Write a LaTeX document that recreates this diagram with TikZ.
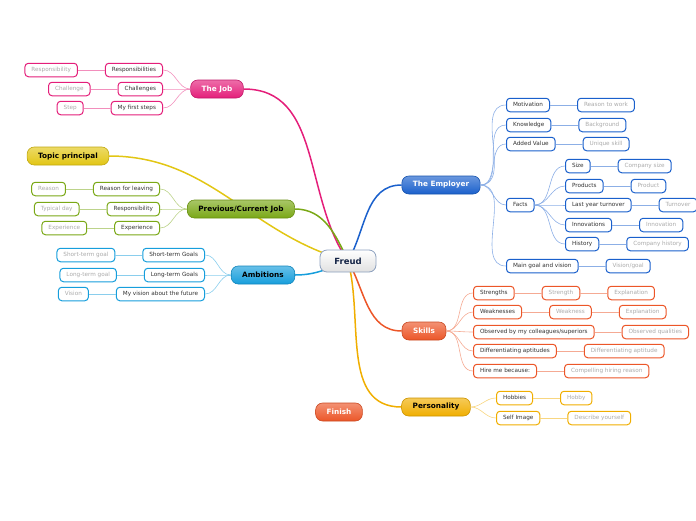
\documentclass[tikz,border=0pt]{standalone}
\usepackage{fontspec}
\setmainfont{DejaVu Sans}
\usepackage{tikz}
\usetikzlibrary{positioning, backgrounds}
\definecolor{MapPink}{RGB}{228, 30, 122}
\definecolor{MapGreen}{RGB}{122, 168, 22}
\definecolor{MapYellow}{RGB}{226, 198, 20}
\definecolor{MapSky}{RGB}{22, 158, 220}
\definecolor{MapBlue}{RGB}{26, 96, 204}
\definecolor{MapOrange}{RGB}{236, 86, 40}
\definecolor{MapGold}{RGB}{240, 174, 0}
\definecolor{MapNavy}{RGB}{20, 36, 70}
\definecolor{MapRim}{RGB}{140, 160, 190}

\tikzset{
  rootbox/.style={rounded corners=7pt, draw=MapRim, line width=0.8pt,
    top color=white, bottom color=black!12, minimum width=56pt,
    minimum height=22pt, text=MapNavy, font=\fontsize{8.5}{9}\selectfont\bfseries},
  topicbox/.style={rounded corners=7pt, draw=#1!85!black, line width=0.6pt,
    top color=#1!65!white, bottom color=#1, minimum height=18pt,
    inner xsep=11pt, text=white, font=\fontsize{7.3}{8}\selectfont\bfseries},
  darktext/.style={text=black},
  subbox/.style={rounded corners=3.5pt, draw=#1, line width=1pt, fill=white,
    minimum height=13.5pt, inner xsep=6.5pt, inner ysep=0pt, text=black!80,
    text height=4.3pt, text depth=1.2pt, font=\fontsize{5.7}{6.5}\selectfont},
  leafbox/.style={subbox=#1, text=black!33},
  branch/.style={draw=#1, line width=1.5pt},
  twig/.style={draw=#1!50, line width=0.6pt}
}

\begin{document}
\begin{tikzpicture}[x=1pt, y=-1pt]
  \useasboundingbox (0,0) rectangle (696,520);

  % centre and main topics
  \node[rootbox] (freud) at (348,261) {Freud};
  \node[topicbox=MapPink] (job) at (217,89) {The Job};
  \node[topicbox=MapYellow, darktext] (topic) at (68,156) {Topic principal};
  \node[topicbox=MapGreen, darktext] (prev) at (241,209) {Previous/Current Job};
  \node[topicbox=MapSky, darktext] (amb) at (263,275) {Ambitions};
  \node[topicbox=MapBlue] (emp) at (441,185) {The Employer};
  \node[topicbox=MapOrange] (skills) at (424,331) {Skills};
  \node[topicbox=MapGold, darktext] (pers) at (436,407) {Personality};
  \node[topicbox=MapOrange] (finish) at (339,412) {Finish};

  \begin{scope}[on background layer]
    \draw[branch=MapPink] (freud.center) to[out=125,in=0] (job.east);
    \draw[branch=MapYellow] (topic.east) to[out=0,in=165] (freud.center);
    \draw[branch=MapGreen] (prev.east) to[out=0,in=115] (freud.center);
    \draw[branch=MapSky] (amb.east) to[out=0,in=200] (freud.center);
    \draw[branch=MapBlue] (freud.center) to[out=60,in=180] (emp.west);
    \draw[branch=MapOrange] (freud.center) to[out=-60,in=180] (skills.west);
    \draw[branch=MapGold] (freud.center) to[out=-75,in=180] (pers.west);
  \end{scope}

  % The Job
  \foreach \n/\y/\sub/\leaf in {resp/70/Responsibilities/Responsibility,
      chal/89/Challenges/Challenge, step/108/My first steps/Step} {
    \node[subbox=MapPink, anchor=east] (job\n) at (163,\y) {\sub};
    \node[leafbox=MapPink, left=27pt of job\n] (job\n-l) {\leaf};
    \draw[twig=MapPink] (job.west) to[out=180,in=0] (job\n.east);
    \draw[twig=MapPink] (job\n.west) -- (job\n-l.east);
  }

  % Previous/Current Job
  \foreach \n/\y/\sub/\leaf in {leav/189/Reason for leaving/Reason,
      resp/209/Responsibility/Typical day, expe/228/Experience/Experience} {
    \node[subbox=MapGreen, anchor=east] (prev\n) at (160,\y) {\sub};
    \node[leafbox=MapGreen, left=27pt of prev\n] (prev\n-l) {\leaf};
    \draw[twig=MapGreen] (prev.west) to[out=180,in=0] (prev\n.east);
    \draw[twig=MapGreen] (prev\n.west) -- (prev\n-l.east);
  }

  % Ambitions
  \foreach \n/\y/\sub/\leaf in {short/255/Short-term Goals/Short-term goal,
      long/275/Long-term Goals/Long-term goal,
      vis/294/My vision about the future/Vision} {
    \node[subbox=MapSky, anchor=east] (amb\n) at (205,\y) {\sub};
    \node[leafbox=MapSky, left=27pt of amb\n] (amb\n-l) {\leaf};
    \draw[twig=MapSky] (amb.west) to[out=180,in=0] (amb\n.east);
    \draw[twig=MapSky] (amb\n.west) -- (amb\n-l.east);
  }

  % The Employer
  \foreach \n/\y/\sub/\leaf in {moti/105/Motivation/Reason to work,
      know/125/Knowledge/Background, added/144/Added Value/Unique skill,
      goal/266/Main goal and vision/{Vision/goal}} {
    \node[subbox=MapBlue, anchor=west] (emp\n) at (506,\y) {\sub};
    \node[leafbox=MapBlue, right=27pt of emp\n] (emp\n-l) {\leaf};
    \draw[twig=MapBlue] (emp.east) to[out=0,in=180] (emp\n.west);
    \draw[twig=MapBlue] (emp\n.east) -- (emp\n-l.west);
  }
  \node[subbox=MapBlue, anchor=west] (facts) at (506,205) {Facts};
  \draw[twig=MapBlue] (emp.east) to[out=0,in=180] (facts.west);
  \foreach \n/\y/\sub/\leaf in {size/166/Size/Company size,
      prod/186/Products/Product, turn/205/Last year turnover/Turnover,
      inno/225/Innovations/Innovation, hist/244/History/Company history} {
    \node[subbox=MapBlue, anchor=west] (facts\n) at (565,\y) {\sub};
    \node[leafbox=MapBlue, right=27pt of facts\n] (facts\n-l) {\leaf};
    \draw[twig=MapBlue] (facts.east) to[out=0,in=180] (facts\n.west);
    \draw[twig=MapBlue] (facts\n.east) -- (facts\n-l.west);
  }

  % Skills
  \foreach \n/\y/\sub/\leaf in {str/293/Strengths/Strength,
      weak/312/Weaknesses/Weakness,
      obs/332/{Observed by my colleagues/superiors}/Observed qualities,
      diff/351/Differentiating aptitudes/Differentiating aptitude,
      hire/371/Hire me because:/Compelling hiring reason} {
    \node[subbox=MapOrange, anchor=west] (skill\n) at (473,\y) {\sub};
    \node[leafbox=MapOrange, right=27pt of skill\n] (skill\n-l) {\leaf};
    \draw[twig=MapOrange] (skills.east) to[out=0,in=180] (skill\n.west);
    \draw[twig=MapOrange] (skill\n.east) -- (skill\n-l.west);
  }
  \foreach \n in {str, weak} {
    \node[leafbox=MapOrange, right=27pt of skill\n-l] (skill\n-x) {Explanation};
    \draw[twig=MapOrange] (skill\n-l.east) -- (skill\n-x.west);
  }

  % Personality
  \foreach \n/\y/\sub/\leaf in {hob/398/Hobbies/Hobby,
      self/418/Self Image/Describe yourself} {
    \node[subbox=MapGold, anchor=west] (pers\n) at (496,\y) {\sub};
    \node[leafbox=MapGold, right=27pt of pers\n] (pers\n-l) {\leaf};
    \draw[twig=MapGold] (pers.east) to[out=0,in=180] (pers\n.west);
    \draw[twig=MapGold] (pers\n.east) -- (pers\n-l.west);
  }
\end{tikzpicture}
\end{document}
